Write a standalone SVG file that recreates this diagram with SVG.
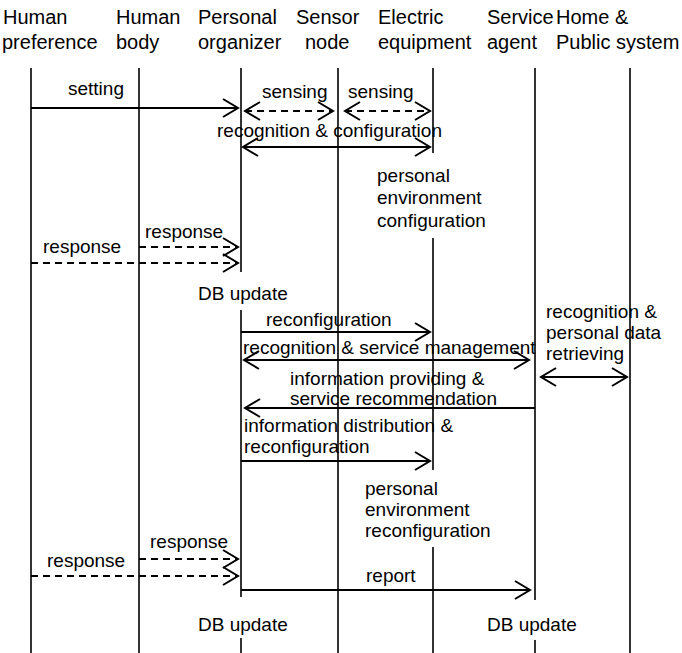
<svg xmlns="http://www.w3.org/2000/svg" width="682" height="653" viewBox="0 0 682 653">
  <style>
    text { font-family: "Liberation Sans", Arial, sans-serif; fill: #000; }
    .hdr { font-size: 20px; }
    .lbl { font-size: 19px; }
    .life { stroke: #000; stroke-width: 1.6; fill: none; }
    .msg { stroke: #000; stroke-width: 2; fill: none; }
    .dash { stroke-dasharray: 7 5; }
    .one { marker-end: url(#head); }
    .two { marker-start: url(#head); marker-end: url(#head); }
  </style>
  <defs>
    <marker id="head" markerUnits="userSpaceOnUse" markerWidth="20" markerHeight="22" refX="15" refY="9" orient="auto-start-reverse" overflow="visible">
      <path d="M0,0 L15,9 L0,18" fill="none" stroke="#000" stroke-width="2" stroke-dasharray="none"/>
    </marker>
  </defs>
  <rect width="682" height="653" fill="#fff"/>

  <!-- participants -->
  <g id="human-preference">
    <text class="hdr" x="3" y="24">Human</text>
    <text class="hdr" x="2" y="49">preference</text>
    <line class="life" x1="31" y1="68" x2="31" y2="653"/>
  </g>
  <g id="human-body">
    <text class="hdr" x="116" y="24">Human</text>
    <text class="hdr" x="116" y="49">body</text>
    <line class="life" x1="139" y1="68" x2="139" y2="653"/>
  </g>
  <g id="personal-organizer">
    <text class="hdr" x="198" y="24">Personal</text>
    <text class="hdr" x="198" y="49">organizer</text>
    <line class="life" x1="241" y1="68" x2="241" y2="272"/>
    <line class="life" x1="241" y1="310" x2="241" y2="597"/>
    <line class="life" x1="241" y1="638" x2="241" y2="653"/>
  </g>
  <g id="sensor-node">
    <text class="hdr" x="296" y="24">Sensor</text>
    <text class="hdr" x="305" y="49">node</text>
    <line class="life" x1="338" y1="68" x2="338" y2="653"/>
  </g>
  <g id="electric-equipment">
    <text class="hdr" x="378" y="24">Electric</text>
    <text class="hdr" x="378" y="49">equipment</text>
    <line class="life" x1="433" y1="68" x2="433" y2="153"/>
    <line class="life" x1="433" y1="238" x2="433" y2="470"/>
    <line class="life" x1="433" y1="547" x2="433" y2="653"/>
  </g>
  <g id="service-agent">
    <text class="hdr" x="487" y="24">Service</text>
    <text class="hdr" x="487" y="49">agent</text>
    <line class="life" x1="535" y1="68" x2="535" y2="600"/>
    <line class="life" x1="535" y1="640" x2="535" y2="653"/>
  </g>
  <g id="home-public-system">
    <text class="hdr" x="556" y="24">Home &amp;</text>
    <text class="hdr" x="556" y="49">Public system</text>
    <line class="life" x1="630" y1="68" x2="630" y2="653"/>
  </g>

  <!-- messages -->
  <g id="connectors">
    <line class="msg one" x1="31" y1="108" x2="238" y2="108"/>
    <line class="msg dash two" x1="245" y1="111" x2="333" y2="111"/>
    <line class="msg dash two" x1="345" y1="111" x2="430" y2="111"/>
    <line class="msg two" x1="243" y1="147" x2="430" y2="147"/>
    <line class="msg dash one" x1="139" y1="247" x2="238" y2="247"/>
    <line class="msg dash one" x1="31" y1="263" x2="238" y2="263"/>
    <line class="msg one" x1="241" y1="332" x2="430" y2="332"/>
    <line class="msg two" x1="244" y1="360" x2="529" y2="360"/>
    <line class="msg two" x1="541" y1="377" x2="627" y2="377"/>
    <line class="msg one" x1="535" y1="408" x2="245" y2="408"/>
    <line class="msg one" x1="241" y1="461" x2="430" y2="461"/>
    <line class="msg dash one" x1="139" y1="559" x2="238" y2="559"/>
    <line class="msg dash one" x1="31" y1="576" x2="238" y2="576"/>
    <line class="msg one" x1="241" y1="590" x2="530" y2="590"/>
  </g>

  <!-- labels -->
  <g id="labels" class="lbl">
    <text class="lbl" x="68" y="95">setting</text>
    <text class="lbl" x="262" y="98">sensing</text>
    <text class="lbl" x="348" y="98">sensing</text>
    <text class="lbl" x="217" y="137">recognition &amp; configuration</text>
    <text class="lbl" x="377" y="182">personal</text>
    <text class="lbl" x="377" y="204">environment</text>
    <text class="lbl" x="377" y="227">configuration</text>
    <text class="lbl" x="145" y="238">response</text>
    <text class="lbl" x="43" y="253">response</text>
    <text class="lbl" x="198" y="300">DB update</text>
    <text class="lbl" x="266" y="326">reconfiguration</text>
    <text class="lbl" x="243" y="354">recognition &amp; service management</text>
    <text class="lbl" x="546" y="318">recognition &amp;</text>
    <text class="lbl" x="546" y="339">personal data</text>
    <text class="lbl" x="546" y="360">retrieving</text>
    <text class="lbl" x="290" y="385">information providing &amp;</text>
    <text class="lbl" x="290" y="405">service recommendation</text>
    <text class="lbl" x="244" y="432">information distribution &amp;</text>
    <text class="lbl" x="244" y="453">reconfiguration</text>
    <text class="lbl" x="365" y="495">personal</text>
    <text class="lbl" x="365" y="516">environment</text>
    <text class="lbl" x="365" y="537">reconfiguration</text>
    <text class="lbl" x="150" y="548">response</text>
    <text class="lbl" x="47" y="567">response</text>
    <text class="lbl" x="366" y="582">report</text>
    <text class="lbl" x="198" y="631">DB update</text>
    <text class="lbl" x="487" y="631">DB update</text>
  </g>
</svg>
